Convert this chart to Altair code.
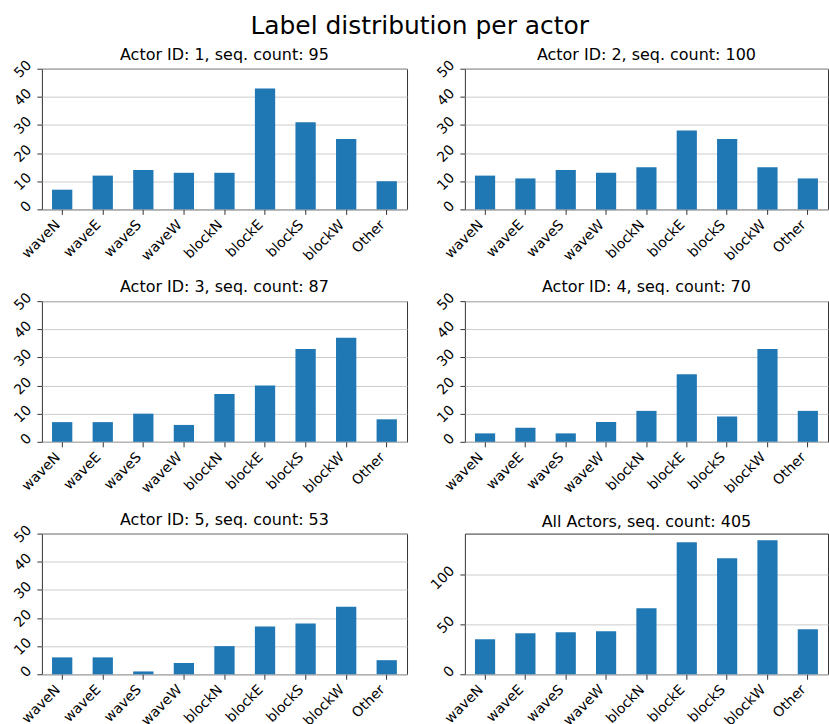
import altair as alt
import pandas as pd

# Label categories on the x axis
labels = ["waveN", "waveE", "waveS", "waveW", "blockN", "blockE", "blockS", "blockW", "Other"]

# Per-actor label counts
actor_1 = [7, 12, 14, 13, 13, 43, 31, 25, 10]
actor_2 = [12, 11, 14, 13, 15, 28, 25, 15, 11]
actor_3 = [7, 7, 10, 6, 17, 20, 33, 37, 8]
actor_4 = [3, 5, 3, 7, 11, 24, 9, 33, 11]
actor_5 = [6, 6, 1, 4, 10, 17, 18, 24, 5]
all_actors = [35, 41, 42, 43, 66, 132, 116, 134, 45]

panel_titles = [
    "Actor ID: 1, seq. count: 95",
    "Actor ID: 2, seq. count: 100",
    "Actor ID: 3, seq. count: 87",
    "Actor ID: 4, seq. count: 70",
    "Actor ID: 5, seq. count: 53",
    "All Actors, seq. count: 405",
]

actor_ticks = [0, 10, 20, 30, 40, 50]
all_ticks = [0, 50, 100]

FONT = "DejaVu Sans"
BAR = "#1f77b4"


def panel(values, title, ymax, yticks, width, title_offset):
    df = pd.DataFrame({"label": labels, "count": values})
    return (
        alt.Chart(
            df,
            title=alt.TitleParams(
                title, fontSize=16, font=FONT, fontWeight="normal",
                color="black", offset=title_offset, anchor="middle",
            ),
        )
        .mark_bar(color=BAR)
        .encode(
            x=alt.X(
                "label:N", sort=labels, title=None,
                scale=alt.Scale(paddingInner=0.5, paddingOuter=0.25),
                axis=alt.Axis(
                    labelAngle=-45, labelAlign="right", labelBaseline="top",
                    labelOffset=-9, labelPadding=3, grid=False,
                ),
            ),
            y=alt.Y(
                "count:Q", title=None,
                scale=alt.Scale(domain=[0, ymax], nice=False, zero=True),
                axis=alt.Axis(
                    values=yticks, labelAngle=-45, labelAlign="right",
                    labelBaseline="middle", labelOffset=-6,
                    labelPadding=8, grid=True,
                ),
            ),
        )
        .properties(width=width, height=141)
    )


# The 0-50 panels carry a top tick label that reaches above the frame,
# so their titles sit closer; the last panel has no label up there.
charts = [
    panel(actor_1, panel_titles[0], 50, actor_ticks, 366, -5),
    panel(actor_2, panel_titles[1], 50, actor_ticks, 364, -5),
    panel(actor_3, panel_titles[2], 50, actor_ticks, 366, -5),
    panel(actor_4, panel_titles[3], 50, actor_ticks, 364, -5),
    panel(actor_5, panel_titles[4], 50, actor_ticks, 366, -5),
    panel(all_actors, panel_titles[5], 140.7, all_ticks, 364, 4),
]

chart = (
    alt.concat(*charts, columns=2, spacing={"row": 92, "column": 58}, bounds="flush")
    .properties(
        title=alt.TitleParams(
            "Label distribution per actor", fontSize=25, font=FONT,
            fontWeight="normal", color="black", anchor="middle", offset=7,
        ),
        padding={"left": 10, "top": 13, "right": 0, "bottom": 0},
        background="white",
    )
    .configure_view(stroke="#333333", strokeWidth=1)
    .configure_axis(
        labelFont=FONT, labelFontSize=14, labelColor="black",
        domain=False, tickColor="#333333", tickSize=5, tickWidth=1,
        gridColor="#cccccc", gridWidth=1,
    )
)

chart.save("out.html", embed_options={"renderer": "svg", "actions": False})
